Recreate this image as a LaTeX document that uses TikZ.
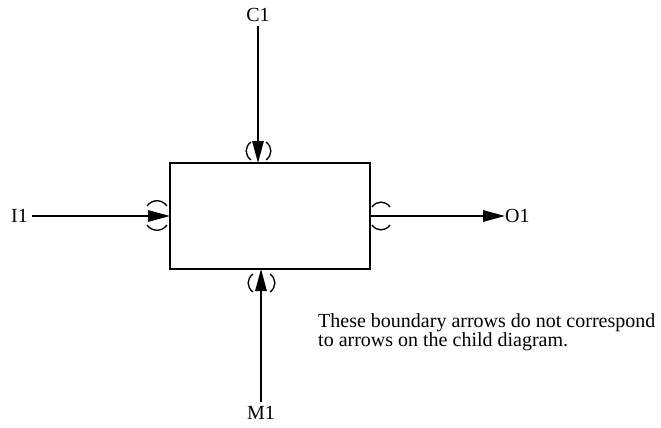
\documentclass[tikz,border=0pt]{standalone}
\usepackage{fontspec}
\setmainfont{Liberation Serif}
\usetikzlibrary{arrows.meta}
\begin{document}
\begin{tikzpicture}[x=1pt,y=-1pt,
  lbl/.style={font=\fontsize{20}{20}\selectfont, inner sep=0pt},
  tun/.style={line width=1.35pt},
  conn/.style={line width=1.3pt, -{Triangle[length=22pt,width=11.5pt]}},
  boxst/.style={draw, line width=1.4pt, minimum width=200pt, minimum height=106pt, inner sep=0pt}]
\useasboundingbox (0,0) rectangle (661,428);
\node[boxst] (box) at (270,216) {};
\node[lbl] (c1) at (258,15) {C1};
\node[lbl, anchor=east] (i1) at (28,216) {I1};
\node[lbl, anchor=west] (o1) at (505,216) {O1};
\node[lbl] (m1) at (261,413) {M1};
\coordinate (ctop) at (258,163);
\coordinate (ileft) at (170,216);
\coordinate (oright) at (370,216);
\coordinate (mbot) at (261,269);
\draw[conn] (c1.south) ++(0,4) -- (ctop);
\draw[conn] (i1.east) ++(4,0) -- (ileft);
\draw[conn] (oright) -- (o1.west);
\draw[conn] (m1.north) ++(0,-4) -- (mbot);
% tunnel parentheses: control arrow
\draw[tun] (251,142) .. controls (244.5,147) and (244.5,155) .. (251,160);
\draw[tun] (266,142) .. controls (272.5,147) and (272.5,155) .. (266,160);
% mechanism arrow
\draw[tun] (253,274) .. controls (246.5,279) and (246.5,287) .. (253,292);
\draw[tun] (270,274) .. controls (276.5,279) and (276.5,287) .. (270,292);
% input arrow
\draw[tun] (147,206) .. controls (152,199) and (162,199) .. (167,206);
\draw[tun] (147,225) .. controls (152,232) and (162,232) .. (167,225);
% output arrow
\draw[tun] (372,207) .. controls (376.5,200.5) and (385.5,200.5) .. (390,207);
\draw[tun] (372,225) .. controls (376.5,231.5) and (385.5,231.5) .. (390,225);
\node[lbl, anchor=north west, align=left, font=\fontsize{20}{19.5}\selectfont] (note) at (318,313) {These boundary arrows do not correspond\\to arrows on the child diagram.};
\end{tikzpicture}
\end{document}
